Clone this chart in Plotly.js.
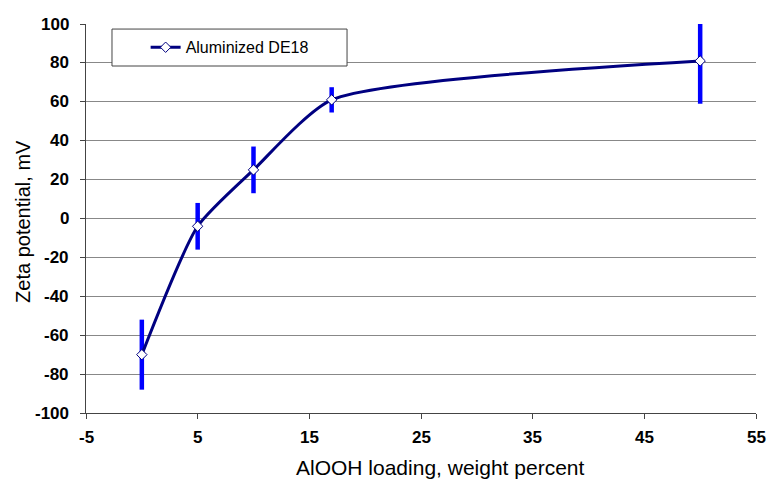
<!DOCTYPE html>
<html>
<head>
<meta charset="utf-8">
<script src="https://cdn.plot.ly/plotly-3.0.1.min.js"></script>
<style>html,body{margin:0;padding:0;background:#fff;}#chart{width:768px;height:491px;}</style>
</head>
<body>
<div id="chart"></div>
<script>
var loading = [0, 5, 10, 17, 50];
var zeta = [-70, -4, 25, 61, 81];
var zetaErr = [18, 12, 12, 6.5, 22];
var seriesName = 'Aluminized DE18';
var xTicks = [-5, 5, 15, 25, 35, 45, 55];
var yTicks = [-100, -80, -60, -40, -20, 0, 20, 40, 60, 80, 100];
var xTitle = 'AlOOH loading, weight percent';
var yTitle = 'Zeta potential, mV';

var FONT = 'Liberation Sans';

var trace = {
  x: loading, y: zeta, name: seriesName,
  type: 'scatter', mode: 'lines+markers',
  line: {color: '#000080', width: 3, shape: 'spline', smoothing: 0.6},
  marker: {symbol: 'diamond', size: 8, color: '#ffffff', line: {color: '#000080', width: 1}},
  error_y: {type: 'data', array: zetaErr, visible: true, color: '#0000FF', thickness: 4.5, width: 0},
  cliponaxis: false
};

var annotations = [
  {text: xTitle, xref: 'paper', yref: 'paper', x: 0.528, y: -0.139, xanchor: 'center', yanchor: 'middle',
    showarrow: false, font: {size: 21, family: FONT, color: '#000'}},
  {text: yTitle, xref: 'paper', yref: 'paper', x: -0.093, y: 0.493, xanchor: 'center', yanchor: 'middle',
    textangle: -90, showarrow: false, font: {size: 20, family: FONT, color: '#000'}}
];
xTicks.forEach(function (v) {
  annotations.push({text: '<b>' + v + '</b>', xref: 'x', yref: 'paper', x: v, y: -0.064,
    xanchor: 'center', yanchor: 'middle', showarrow: false, font: {size: 17, family: FONT, color: '#000'}});
});
yTicks.forEach(function (v) {
  annotations.push({text: '<b>' + v + '</b>', xref: 'paper', yref: 'y', x: -0.022, y: v,
    xanchor: 'right', yanchor: 'middle', showarrow: false, font: {size: 17, family: FONT, color: '#000'}});
});

var layout = {
  width: 768, height: 491,
  margin: {l: 86, r: 12, t: 24, b: 78},
  paper_bgcolor: '#ffffff', plot_bgcolor: '#ffffff',
  font: {family: FONT, color: '#000'},
  showlegend: true,
  legend: {x: 0.089, y: 0.94, xanchor: 'left', yanchor: 'middle', bgcolor: 'rgba(0,0,0,0)',
    borderwidth: 0, font: {size: 16, color: '#000', family: FONT}},
  shapes: [{type: 'rect', xref: 'paper', yref: 'paper', x0: 0.0388, x1: 0.3896, y0: 0.892, y1: 0.987,
    line: {color: '#444', width: 1}, fillcolor: '#ffffff', layer: 'above'}],
  annotations: annotations,
  xaxis: {range: [-5, 55], tickvals: xTicks, showticklabels: false,
    showgrid: false, zeroline: false, showline: true, linecolor: '#444', linewidth: 1,
    ticks: 'outside', ticklen: 5, tickcolor: '#444'},
  yaxis: {range: [-100, 100], tickvals: yTicks, showticklabels: false,
    showgrid: true, gridcolor: '#888', gridwidth: 1, zeroline: false,
    showline: true, linecolor: '#444', linewidth: 1,
    ticks: 'outside', ticklen: 5, tickcolor: '#444'}
};

Plotly.newPlot('chart', [trace], layout, {displayModeBar: false, staticPlot: true});
</script>
</body>
</html>
